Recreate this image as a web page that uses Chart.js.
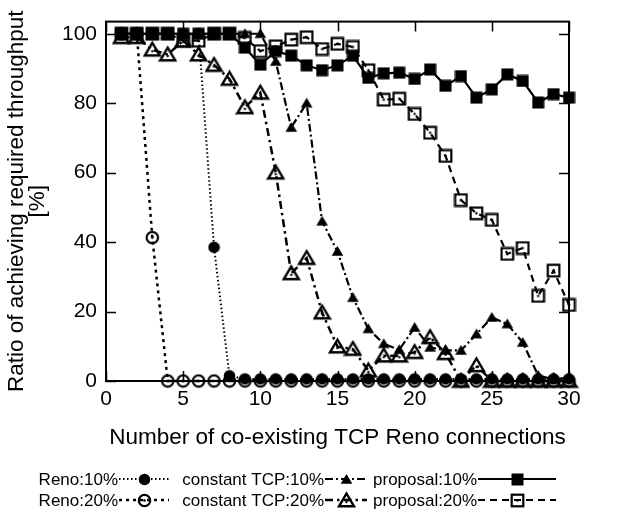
<!DOCTYPE html>
<html>
<head>
<meta charset="utf-8">
<script src="https://cdn.jsdelivr.net/npm/chart.js@4/dist/chart.umd.min.js"></script>
<style>
  html, body { margin: 0; padding: 0; background: #fff; }
  #wrap { width: 618px; height: 515px; }
</style>
</head>
<body>
<div id="wrap"><canvas id="c" width="618" height="515"></canvas></div>
<script>
// ---- data ----
const connections = [1,2,3,4,5,6,7,8,9,10,11,12,13,14,15,16,17,18,19,20,21,22,23,24,25,26,27,28,29,30];
const reno10 = [100,100,100,100,100,100,38.5,1.5,0.6,0.6,0.6,0.6,0.6,0.6,0.6,0.6,0.6,0.6,0.6,0.6,0.6,0.6,0.6,0.6,0.6,0.6,0.6,0.6,0.6,0.6];
const reno20 = [100,100,41.3,0,0,0,0,0,0,0,0,0,0,0,0,0,0,0,0,0,0,0,0,0,0,0,0,0,0,0];
const constTcp10 = [100,100,100,100,100,100,100,100,100,100,92,73,80,46,37.3,24,15,10.7,9,15.4,9.7,8.8,8.8,13.5,18.3,16.4,11.1,1.6,0.5,1];
const constTcp20 = [99,99,95.4,94,98,94,91,87,78.8,83,60,31,35.4,19.7,9.9,9.2,3,7.3,7.3,8.3,12.6,8,0,4.5,0,0,0,0,0,0];
const proposal10 = [100,100,100,100,100,100,100,100,96,91.1,95,93.7,90.9,89.5,90.9,93.7,87.3,88.6,88.8,87,89.7,85,87.8,81.6,84,88.3,86.4,80.2,82.6,81.6];
const proposal20 = [100,100,100,100,98,98,100,100,98.8,95,96.4,98.3,99,95.6,97.1,96.2,89.5,81,81.3,76.9,71.5,64.8,52.1,48.3,46.4,36.6,38.3,24.5,31.8,21.9];
const seriesLabels = ['Reno:10%','Reno:20%','constant TCP:10%','constant TCP:20%','proposal:10%','proposal:20%'];
const xTickValues = [0,5,10,15,20,25,30];
const yTickValues = [0,20,40,60,80,100];

// ---- marker images ----
function mk(size, draw) {
  const c = document.createElement('canvas');
  c.width = size; c.height = size;
  const g = c.getContext('2d');
  g.fillStyle = '#000'; g.strokeStyle = '#000';
  draw(g, size / 2);
  return c;
}
const mFilledCircle = mk(13, (g, h) => { g.beginPath(); g.arc(h, h, 5.8, 0, Math.PI * 2); g.fill(); });
const mRing = mk(15, (g, h) => {
  g.lineWidth = 2.2; g.beginPath(); g.arc(h, h, 5.7, 0, Math.PI * 2); g.stroke();
  g.beginPath(); g.arc(h, h, 1.3, 0, Math.PI * 2); g.fill();
});
const mSmallTri = mk(13, (g, h) => {
  g.beginPath(); g.moveTo(h, h - 5.5); g.lineTo(h + 5.8, h + 4.2); g.lineTo(h - 5.8, h + 4.2); g.closePath(); g.fill();
});
const mBigTri = mk(19, (g, h) => {
  g.lineWidth = 2.4; g.lineJoin = 'miter';
  g.beginPath(); g.moveTo(h, h - 7); g.lineTo(h + 7.5, h + 5.8); g.lineTo(h - 7.5, h + 5.8); g.closePath(); g.stroke();
  g.beginPath(); g.arc(h, h + 1.5, 1.2, 0, Math.PI * 2); g.fill();
});
const mFilledSq = mk(13, (g, h) => { g.fillRect(h - 6, h - 6, 12, 12); });
const mHollowSq = mk(15, (g, h) => {
  g.lineWidth = 2.2; g.strokeRect(h - 5.8, h - 5.8, 11.6, 11.6);
  g.beginPath(); g.arc(h, h, 1.2, 0, Math.PI * 2); g.fill();
});

const styles = [
  { dash: [1.5, 2.5], width: 2, marker: mFilledCircle, order: 0 },
  { dash: [3, 4], width: 2.5, marker: mRing, order: -1 },
  { dash: [8, 3, 2, 3], width: 2.2, marker: mSmallTri, order: 4 },
  { dash: [8, 4, 2.5, 4], width: 2.5, marker: mBigTri, order: 3 },
  { dash: [], width: 2.2, marker: mFilledSq, order: 2 },
  { dash: [7, 5], width: 2.2, marker: mHollowSq, order: 1 }
];
const seriesValues = [reno10, reno20, constTcp10, constTcp20, proposal10, proposal20];

const datasets = seriesValues.map((vals, i) => ({
  label: seriesLabels[i],
  data: connections.map((x, j) => ({ x: x, y: vals[j] })),
  borderColor: '#000',
  backgroundColor: '#000',
  borderWidth: styles[i].width,
  borderDash: styles[i].dash,
  pointStyle: styles[i].marker,
  pointRadius: 6,
  pointHoverRadius: 6,
  tension: 0,
  clip: false,
  order: styles[i].order
}));

const FONT = '"Liberation Sans", Arial, sans-serif';
const TICK = 10;

const framePlugin = {
  id: 'frame',
  beforeDatasetsDraw(chart) {
    const { ctx, chartArea: a, scales: { x, y } } = chart;
    ctx.save();
    ctx.strokeStyle = '#000';
    ctx.lineWidth = 1.5;
    ctx.beginPath();
    xTickValues.forEach(v => {
      const px = Math.round(x.getPixelForValue(v)) + 0.5;
      ctx.moveTo(px, a.bottom); ctx.lineTo(px, a.bottom - TICK);
      ctx.moveTo(px, a.top); ctx.lineTo(px, a.top + TICK);
    });
    yTickValues.forEach(v => {
      const py = Math.round(y.getPixelForValue(v)) + 0.5;
      ctx.moveTo(a.left, py); ctx.lineTo(a.left + TICK, py);
      ctx.moveTo(a.right, py); ctx.lineTo(a.right - TICK, py);
    });
    ctx.stroke();
    ctx.lineWidth = 2;
    ctx.strokeRect(a.left, a.top, a.right - a.left, a.bottom - a.top);
    ctx.restore();
  }
};

// legend: text right-aligned before a line sample with marker
const legendRows = [479, 500];
const legendCols = [
  { start: 119, len: 50 },
  { start: 325, len: 42 },
  { start: 478, len: 78 }
];
const legendPlugin = {
  id: 'gpLegend',
  afterDraw(chart) {
    const ctx = chart.ctx;
    ctx.save();
    ctx.font = '17px ' + FONT;
    ctx.fillStyle = '#000';
    ctx.textBaseline = 'middle';
    ctx.textAlign = 'right';
    for (let i = 0; i < 6; i++) {
      const col = legendCols[Math.floor(i / 2)];
      const rowY = legendRows[i % 2];
      ctx.fillText(seriesLabels[i], col.start - 1, rowY + 1);
      const s = styles[i];
      ctx.strokeStyle = '#000';
      ctx.lineWidth = s.width;
      ctx.setLineDash(s.dash);
      ctx.beginPath();
      ctx.moveTo(col.start, rowY); ctx.lineTo(col.start + col.len, rowY);
      ctx.stroke();
      ctx.setLineDash([]);
      const m = s.marker;
      ctx.drawImage(m, Math.round(col.start + col.len / 2 - m.width / 2), Math.round(rowY - m.height / 2));
    }
    ctx.restore();
  }
};

new Chart(document.getElementById('c'), {
  type: 'line',
  data: { datasets },
  options: {
    responsive: false,
    animation: false,
    devicePixelRatio: 1,
    layout: { padding: { left: 0, top: 18, right: 49, bottom: 65 } },
    plugins: { legend: { display: false }, tooltip: { enabled: false } },
    scales: {
      x: {
        type: 'linear', min: 0, max: 30,
        afterBuildTicks: s => { s.ticks = xTickValues.map(v => ({ value: v })); },
        afterFit: s => { s.height = 69; },
        grid: { display: false, drawTicks: false },
        border: { display: false },
        ticks: { color: '#000', font: { family: FONT, size: 21 }, padding: 6, maxRotation: 0 },
        title: { display: true, text: 'Number of co-existing TCP Reno connections', color: '#000',
                 font: { family: FONT, size: 22.5, lineHeight: 1.0 }, padding: { top: 0, bottom: 1 } }
      },
      y: {
        type: 'linear', min: 0, max: 103.5,
        afterBuildTicks: s => { s.ticks = yTickValues.map(v => ({ value: v })); },
        afterFit: s => { s.width = 106; },
        grid: { display: false, drawTicks: false },
        border: { display: false },
        ticks: { color: '#000', font: { family: FONT, size: 21 }, padding: 9 },
        title: { display: true, text: ['Ratio of achieving required throughput', '[%]'], color: '#000',
                 font: { family: FONT, size: 22.5, lineHeight: 0.93 }, padding: { top: 6.5, bottom: 0 } }
      }
    }
  },
  plugins: [framePlugin, legendPlugin]
});
</script>
</body>
</html>
